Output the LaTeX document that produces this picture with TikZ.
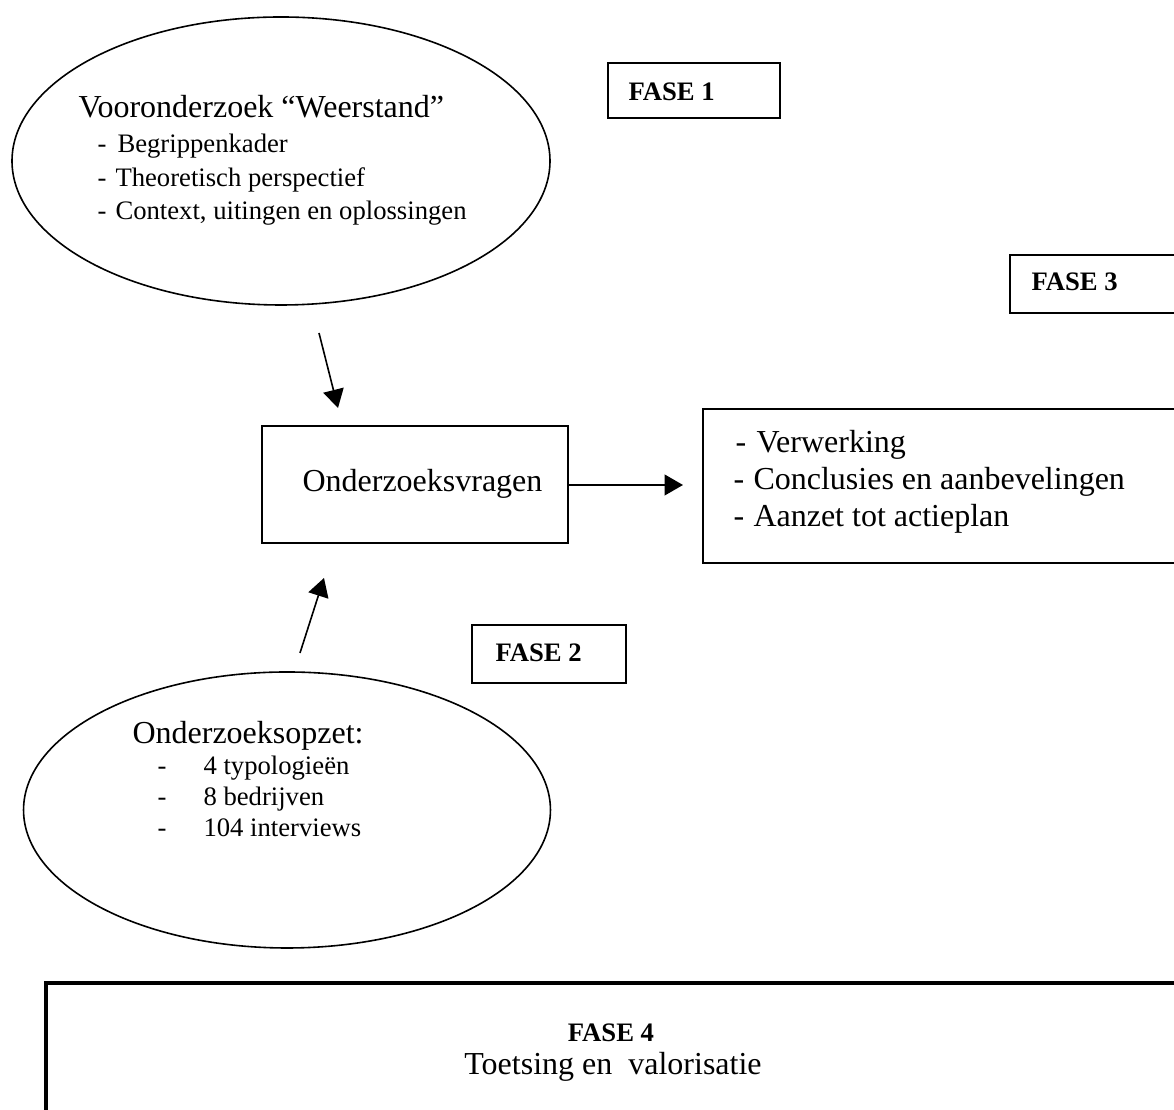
\documentclass[tikz,border=0pt]{standalone}
\usepackage{fontspec}
\setmainfont{Liberation Serif}
\usetikzlibrary{shapes.geometric,arrows.meta}
\begin{document}
\begin{tikzpicture}[x=0.375pt,y=-0.375pt,
  oval/.style={ellipse, draw, line width=0.6pt, inner sep=0pt},
  box/.style={rectangle, draw, line width=0.6pt, inner sep=0pt},
  big/.style={font=\fontsize{12}{13.8}\selectfont, inner sep=0pt, anchor=base west},
  small/.style={font=\fontsize{10}{12}\selectfont, inner sep=0pt, anchor=base west},
  phase/.style={font=\fontsize{10}{12}\selectfont\bfseries, inner sep=0pt, anchor=base west},
  conn/.style={line width=0.6pt, -{Triangle[length=6.9pt,width=7.8pt]}}
]
\useasboundingbox (0,0) rectangle (1174,1110);
\clip (0,0) rectangle (1174,1110);

% Phase 1 ellipse
\node[oval, minimum width=201.75pt, minimum height=108pt] (e1) at (281,161) {};
\node[big] (t1) at (78,118) {Vooronderzoek “Weerstand”};
\node[small] (t1a) at (97,153) {\makebox[7.5pt][l]{-}Begrippenkader};
\node[small] (t1b) at (97,187) {\makebox[6.75pt][l]{-}Theoretisch perspectief};
\node[small] (t1c) at (97,220) {\makebox[6.75pt][l]{-}Context, uitingen en oplossingen};

% Phase labels
\node[box, minimum width=64.5pt, minimum height=20.6pt] (f1) at (694,90.5) {};
\node[phase] (f1t) at (628,101) {FASE 1};
\node[box, minimum width=67.5pt, minimum height=21.75pt] (f3) at (1100,284) {};
\node[phase] (f3t) at (1031,291) {FASE 3};
\node[box, minimum width=57.75pt, minimum height=21.75pt] (f2) at (549,654) {};
\node[phase] (f2t) at (495,662) {FASE 2};

% Central box
\node[box, minimum width=114.75pt, minimum height=43.875pt] (q) at (415,484.5) {};
\node[big] (qt) at (302,492) {Onderzoeksvragen};

% Result box
\node[box, minimum width=182.6pt, minimum height=57.75pt] (r) at (946.5,486) {};
\node[big] (r1) at (735,453) {\makebox[7.9pt][l]{-}Verwerking};
\node[big] (r2) at (733,490) {\makebox[7.5pt][l]{-}Conclusies en aanbevelingen};
\node[big] (r3) at (733,527) {\makebox[7.5pt][l]{-}Aanzet tot actieplan};

% Phase 2 ellipse
\node[oval, minimum width=197.6pt, minimum height=103.5pt] (e2) at (287,810) {};
\node[big] (t2) at (132,744) {Onderzoeksopzet:};
\node[small] (t2a) at (157,775) {\makebox[17.25pt][l]{-}4 typologieën};
\node[small] (t2b) at (157,806) {\makebox[17.25pt][l]{-}8 bedrijven};
\node[small] (t2c) at (157,837) {\makebox[17.25pt][l]{-}104 interviews};

% Phase 4 box
\node[box, line width=1.2pt, minimum width=432.75pt, minimum height=55.1pt] (f4) at (623,1056.5) {};
\node[phase, anchor=base] (f4t) at (611,1042) {FASE 4};
\node[big, anchor=base] (f4s) at (613,1075) {Toetsing en\ \ valorisatie};

% Connectors
\coordinate (a1s) at (319,333);
\coordinate (a1e) at (338,408);
\draw[conn] (a1s) -- (a1e);
\coordinate (a2e) at (683,485);
\draw[conn] (q.east |- a2e) -- (a2e);
\coordinate (a3s) at (300,653);
\coordinate (a3e) at (324,578);
\draw[conn] (a3s) -- (a3e);
\end{tikzpicture}
\end{document}
